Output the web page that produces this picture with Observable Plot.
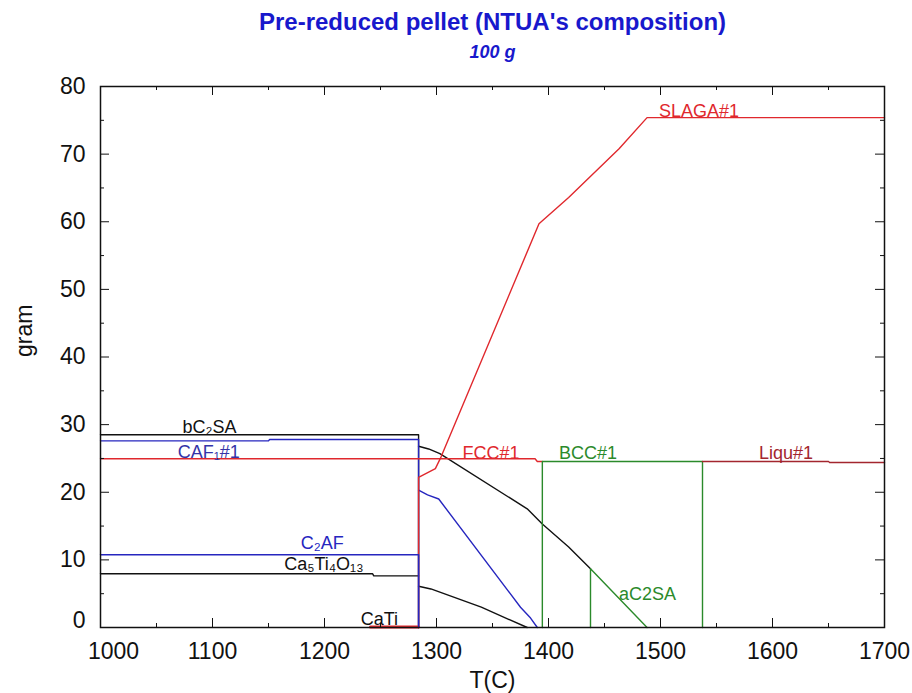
<!DOCTYPE html>
<html>
<head>
<meta charset="utf-8">
<script src="https://cdn.jsdelivr.net/npm/d3@7"></script>
<script src="https://cdn.jsdelivr.net/npm/@observablehq/plot@0.6"></script>
<style>
  body { margin: 0; background: #fff; }
  #chart svg { font-family: "Liberation Sans", Arial, sans-serif; background: #fff; }
</style>
</head>
<body>
<div id="chart"></div>
<script>
// Equilibrium phase amounts (gram) versus temperature T (°C), 100 g of pre-reduced pellet.
// Each array is one drawn curve: [T, gram] points.
const bC2SA_low      = [[1000, 28.5], [1284, 28.5], [1284, 0]];
const bC2SA_high     = [[1284, 26.8], [1293, 26.4], [1303, 25.7], [1381, 17.55], [1394.5, 15.3], [1418, 11.9], [1437.5, 8.7]];
const ca5ti4o13_low  = [[1000, 7.94], [1243, 7.94], [1244, 7.64], [1284, 7.64]];
const ca5ti4o13_high = [[1284, 6.1], [1295, 5.7], [1340, 3.0], [1381, 0]];
const caf1_low       = [[1000, 27.6], [1150, 27.6], [1151, 27.8], [1284, 27.8], [1284, 0]];
const caf1_high      = [[1284, 20.3], [1292, 19.6], [1302, 19.0], [1375, 3.0], [1384, 1.4], [1390, 0]];
const c2af           = [[1000, 10.75], [1284, 10.75], [1284, 0]];
const slag           = [[1284, 0], [1284, 22.2], [1299, 23.5], [1304, 25.2], [1391.5, 59.7], [1418, 63.6], [1463, 70.8], [1488, 75.4], [1700, 75.4]];
const fcc            = [[1000, 24.95], [1388, 24.95], [1390, 24.55], [1394.5, 24.55]];
const cati           = [[1241, 0.08], [1284, 0.08]];
const bcc            = [[1394.5, 0], [1394.5, 24.55], [1537.5, 24.55], [1537.5, 0]];
const aC2SA          = [[1437.5, 0], [1437.5, 8.7], [1488, 0]];
const liquid         = [[1537.5, 24.55], [1650, 24.55], [1651, 24.4], [1700, 24.4]];

// Curve names in drawing order
const curveNames = ["bC2SA_low", "bC2SA_high", "ca5ti4o13_low", "ca5ti4o13_high",
  "caf1_low", "caf1_high", "slag", "fcc", "cati", "c2af", "bcc", "aC2SA", "liquid"];
const curveData = {bC2SA_low, bC2SA_high, ca5ti4o13_low, ca5ti4o13_high,
  caf1_low, caf1_high, slag, fcc, cati, c2af, bcc, aC2SA, liquid};

// Phase labels, placed at [T, gram]
const labelTexts = ["SLAGA#1", "FCC#1", "BCC#1", "Liqu#1", "aC2SA", "bC₂SA", "CAF₁#1", "C₂AF", "Ca₅Ti₄O₁₃", "CaTi"];
const labelT     = [1498.6, 1323.2, 1409.4, 1587.9, 1462.9, 1073.3, 1068.9, 1178.9, 1164.0, 1232.4];
const labelG     = [76.35, 25.83, 25.7, 25.73, 4.88, 29.57, 25.88, 12.42, 9.32, 1.18];

// Axis ticks
const xTickLabels = [1000, 1100, 1200, 1300, 1400, 1500, 1600, 1700];
const xMinorTicks = [1050, 1150, 1250, 1350, 1450, 1550, 1650];
const yTickLabels = [0, 10, 20, 30, 40, 50, 60, 70, 80];
const yMinorTicks = [5, 15, 25, 35, 45, 55, 65, 75];

// Colours
const BLACK = "#111", BLUE = "#2626bf", RED = "#e0282d", GREEN = "#2b8a2b", MAROON = "#a3262e";
const curveColor = {
  bC2SA_low: BLACK, bC2SA_high: BLACK, ca5ti4o13_low: BLACK, ca5ti4o13_high: BLACK,
  caf1_low: BLUE, caf1_high: BLUE, c2af: BLUE,
  slag: RED, fcc: RED, cati: RED,
  bcc: GREEN, aC2SA: GREEN, liquid: MAROON
};
const labelColor = {
  "SLAGA#1": RED, "FCC#1": RED, "BCC#1": GREEN, "Liqu#1": MAROON, "aC2SA": GREEN,
  "bC₂SA": BLACK, "CAF₁#1": "#3434a8", "C₂AF": BLUE, "Ca₅Ti₄O₁₃": BLACK, "CaTi": BLACK
};

const labels = labelTexts.map((text, i) => ({text, T: labelT[i], g: labelG[i]}));

const W = 912, H = 693;
const M = {top: 86, right: 28, bottom: 66, left: 100};
const frameW = W - M.left - M.right;
const frameH = H - M.top - M.bottom;

const curveMarks = curveNames.map(name =>
  Plot.line(curveData[name].map(([T, g]) => ({T, g})), {
    x: "T", y: "g",
    stroke: curveColor[name],
    strokeWidth: name === "cati" ? 3 : 1.4,
    curve: "linear"
  })
);

const axisFont = 23;
const plain = d => String(d);

const chart = Plot.plot({
  width: W,
  height: H,
  marginTop: M.top,
  marginRight: M.right,
  marginBottom: M.bottom,
  marginLeft: M.left,
  x: {domain: [1000, 1700], axis: null},
  y: {domain: [0, 80], axis: null},
  marks: [
    ...curveMarks,
    // tick marks pointing inward on all four sides
    Plot.tickX(xTickLabels, {x: d => d, insetTop: frameH - 9, stroke: BLACK}),
    Plot.tickX(xMinorTicks, {x: d => d, insetTop: frameH - 4, stroke: BLACK}),
    Plot.tickX(xTickLabels, {x: d => d, insetBottom: frameH - 9, stroke: BLACK}),
    Plot.tickX(xMinorTicks, {x: d => d, insetBottom: frameH - 4, stroke: BLACK}),
    Plot.tickY(yTickLabels, {y: d => d, insetRight: frameW - 9, stroke: BLACK}),
    Plot.tickY(yMinorTicks, {y: d => d, insetRight: frameW - 4, stroke: BLACK}),
    Plot.tickY(yTickLabels, {y: d => d, insetLeft: frameW - 9, stroke: BLACK}),
    Plot.tickY(yMinorTicks, {y: d => d, insetLeft: frameW - 4, stroke: BLACK}),
    Plot.frame({stroke: BLACK, strokeWidth: 1.5}),
    // tick labels
    Plot.axisX(xTickLabels.slice(0, 1), {tickSize: 0, tickPadding: 15, fontSize: axisFont, dx: 13, label: null, tickFormat: plain, fill: BLACK}),
    Plot.axisX(xTickLabels.slice(1), {tickSize: 0, tickPadding: 15, fontSize: axisFont, label: null, tickFormat: plain, fill: BLACK}),
    Plot.axisY(yTickLabels.slice(0, 1), {tickSize: 0, tickPadding: 15, fontSize: axisFont, dy: -7, label: null, tickFormat: plain, fill: BLACK}),
    Plot.axisY(yTickLabels.slice(1), {tickSize: 0, tickPadding: 15, fontSize: axisFont, label: null, tickFormat: plain, fill: BLACK}),
    // axis titles
    Plot.text(["T(C)"], {text: d => d, frameAnchor: "bottom", lineAnchor: "middle", dy: 53, fontSize: axisFont, fill: BLACK}),
    Plot.text(["gram"], {text: d => d, frameAnchor: "left", lineAnchor: "middle", dx: -76, rotate: -90, fontSize: axisFont, fill: BLACK}),
    // chart title and subtitle
    Plot.text(["Pre-reduced pellet (NTUA's composition)"], {
      text: d => d, frameAnchor: "top", lineAnchor: "middle", dy: -64, fontSize: 24, fontWeight: "bold", fill: "#1818cc"
    }),
    Plot.text(["100 g"], {
      text: d => d, frameAnchor: "top", lineAnchor: "middle", dy: -34, fontSize: 18, fontWeight: "bold", fontStyle: "italic", fill: "#1818cc"
    }),
    // phase labels
    Plot.text(labels, {
      x: "T", y: "g", text: "text", textAnchor: "start", fontSize: 18,
      fill: d => labelColor[d.text]
    })
  ]
});

document.getElementById("chart").append(chart);
</script>
</body>
</html>
